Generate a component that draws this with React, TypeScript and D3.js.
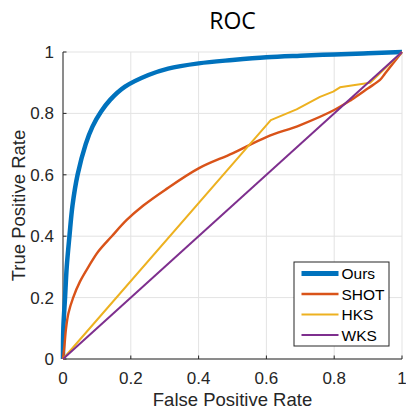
import React from "react";
import * as d3 from "d3";

const tickValues = [0, 0.2, 0.4, 0.6, 0.8, 1];
const tickLabels = ["0", "0.2", "0.4", "0.6", "0.8", "1"];

const seriesNames = ["Ours", "SHOT", "HKS", "WKS"];
const seriesColors = ["#0072BD", "#D95319", "#EDB120", "#7E2F8E"];

const oursFpr = [0, 0.001, 0.006, 0.011, 0.019, 0.028, 0.043, 0.067, 0.087, 0.112, 0.139, 0.183, 0.252, 0.31, 0.4, 0.5, 0.6, 0.7, 0.8, 0.9, 1];
const oursTpr = [0, 0.1, 0.2, 0.3, 0.4, 0.5, 0.6, 0.7, 0.757, 0.805, 0.844, 0.887, 0.925, 0.946, 0.963, 0.974, 0.983, 0.988, 0.992, 0.996, 1];

const shotFpr = [0, 0.004, 0.009, 0.016, 0.03, 0.05, 0.075, 0.104, 0.144, 0.188, 0.237, 0.3, 0.4, 0.5, 0.6, 0.7, 0.8, 0.85, 0.9, 0.935, 0.95, 1];
const shotTpr = [0, 0.04, 0.1, 0.149, 0.2, 0.252, 0.3, 0.35, 0.4, 0.453, 0.5, 0.55, 0.621, 0.67, 0.723, 0.762, 0.811, 0.844, 0.882, 0.909, 0.93, 1];

const hksFpr = [0, 0.613, 0.689, 0.758, 0.797, 0.817, 0.856, 0.906, 1];
const hksTpr = [0, 0.778, 0.813, 0.854, 0.871, 0.885, 0.892, 0.9, 1];

const wksFpr = [0, 1];
const wksTpr = [0, 1];

const allFpr = [oursFpr, shotFpr, hksFpr, wksFpr];
const allTpr = [oursTpr, shotTpr, hksTpr, wksTpr];

export default function App() {
  const W = 406;
  const H = 410;
  const x0 = 63, x1 = 402, y0 = 359, y1 = 52;
  const x = d3.scaleLinear().domain([0, 1]).range([x0, x1]);
  const y = d3.scaleLinear().domain([0, 1]).range([y0, y1]);
  const axisColor = "#262626";
  const gridColor = "#e3e3e3";
  const font = "'Liberation Sans', Arial, Helvetica, sans-serif";
  const widths = [4.5, 2.4, 2, 2];
  const curves = [d3.curveCatmullRom.alpha(0.5), d3.curveCatmullRom.alpha(0.5), d3.curveLinear, d3.curveLinear];

  const paths = allFpr.map((fx, i) => {
    const pts = fx.map((v, j) => [v, allTpr[i][j]] as [number, number]);
    const gen = d3.line<[number, number]>().x(d => x(d[0])).y(d => y(d[1])).curve(curves[i]);
    return gen(pts) || "";
  });

  const legX = 294, legY = 262, legW = 95, legH = 84;
  const rowY = [273.5, 294, 314.5, 335];

  return (
    <svg width={W} height={H} style={{ position: "absolute", left: 0, top: 0, background: "#fff" }} fontFamily={font}>
      <rect x={0} y={0} width={W} height={H} fill="#fff" />
      {tickValues.map((t, i) => (
        <g key={"g" + i}>
          <line x1={x(t)} x2={x(t)} y1={y0} y2={y1} stroke={gridColor} strokeWidth={1} />
          <line x1={x0} x2={x1} y1={y(t)} y2={y(t)} stroke={gridColor} strokeWidth={1} />
        </g>
      ))}
      <line x1={x0} x2={x0} y1={y0} y2={y1} stroke={axisColor} strokeWidth={1} />
      <line x1={x0} x2={x1} y1={y0} y2={y0} stroke={axisColor} strokeWidth={1} />
      {tickValues.map((t, i) => (
        <g key={"t" + i}>
          <line x1={x(t)} x2={x(t)} y1={y0} y2={y0 - 3.5} stroke={axisColor} strokeWidth={1} />
          <line x1={x0} x2={x0 + 3.5} y1={y(t)} y2={y(t)} stroke={axisColor} strokeWidth={1} />
          <text x={x(t)} y={384} textAnchor="middle" fontSize={17} fill={axisColor}>{tickLabels[i]}</text>
          <text x={54} y={y(t) + 6} textAnchor="end" fontSize={17} fill={axisColor}>{tickLabels[i]}</text>
        </g>
      ))}
      {paths.map((p, i) => (
        <path key={"p" + i} d={p} fill="none" stroke={seriesColors[i]} strokeWidth={widths[i]} strokeLinejoin="round" />
      ))}
      <text x={(x0 + x1) / 2} y={406} textAnchor="middle" fontSize={18.5} fill={axisColor}>False Positive Rate</text>
      <text transform={`translate(25,${(y0 + y1) / 2}) rotate(-90)`} textAnchor="middle" fontSize={18.5} fill={axisColor}>True Positive Rate</text>
      <text x={(x0 + x1) / 2} y={28.5} textAnchor="middle" fontSize={23} fill="#000" fontFamily="'Open Sans', 'Liberation Sans', sans-serif">ROC</text>
      <rect x={legX} y={legY} width={legW} height={legH} fill="#fff" stroke={axisColor} strokeWidth={1} />
      {seriesNames.map((n, i) => (
        <g key={"l" + i}>
          <line x1={301.5} x2={338.5} y1={rowY[i]} y2={rowY[i]} stroke={seriesColors[i]} strokeWidth={i === 0 ? 5 : widths[i]} />
          <text x={341.5} y={rowY[i] + 5.5} fontSize={15.5} fill="#000">{n}</text>
        </g>
      ))}
    </svg>
  );
}
